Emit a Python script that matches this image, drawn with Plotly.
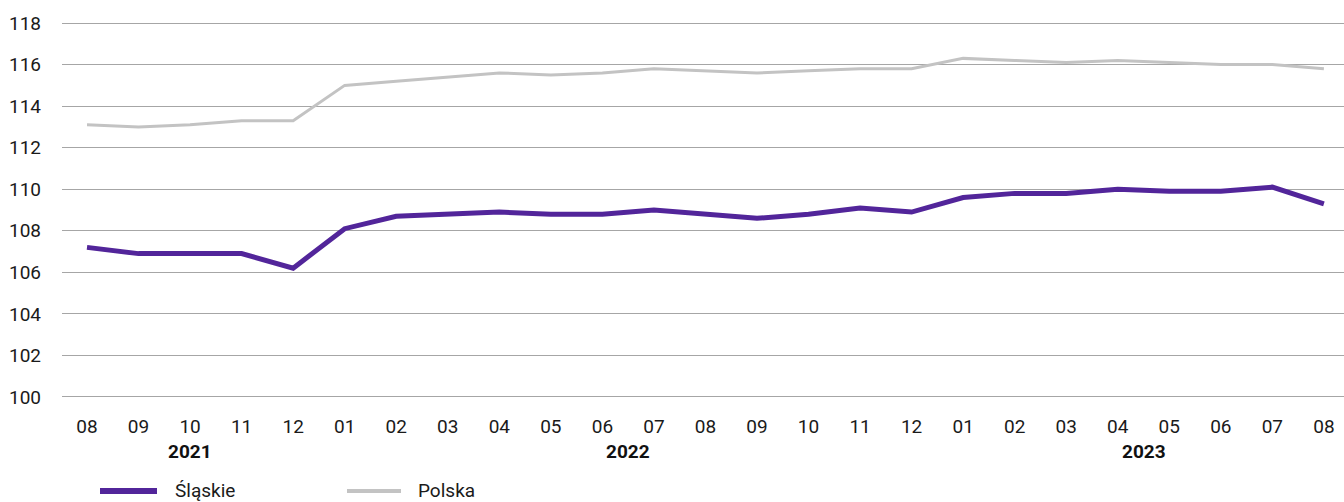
import plotly.graph_objects as go

months = ["08", "09", "10", "11", "12",
          "01", "02", "03", "04", "05", "06", "07", "08", "09", "10", "11", "12",
          "01", "02", "03", "04", "05", "06", "07", "08"]
years = ["2021", "2022", "2023"]
year_centers = [2, 10.5, 20.5]

slaskie = [107.2, 106.9, 106.9, 106.9, 106.2,
           108.1, 108.7, 108.8, 108.9, 108.8, 108.8, 109.0, 108.8, 108.6, 108.8, 109.1, 108.9,
           109.6, 109.8, 109.8, 110.0, 109.9, 109.9, 110.1, 109.3]
polska = [113.1, 113.0, 113.1, 113.3, 113.3,
          115.0, 115.2, 115.4, 115.6, 115.5, 115.6, 115.8, 115.7, 115.6, 115.7, 115.8, 115.8,
          116.3, 116.2, 116.1, 116.2, 116.1, 116.0, 116.0, 115.8]

series_names = ["Śląskie", "Polska"]
series_colors = ["#52259A", "#C3C3C3"]
series_widths = [5, 3]

x = list(range(len(months)))
FONT = "Roboto"
W, H = 1344, 502
ML, MR, MT, MB = 62, 0, 21, 103

fig = go.Figure()
for name, vals, col, lw in zip(series_names, [slaskie, polska], series_colors, series_widths):
    fig.add_trace(go.Scatter(x=x, y=vals, mode="lines", name=name,
                             line=dict(color=col, width=lw), showlegend=False))

for yr, xc in zip(years, year_centers):
    fig.add_annotation(x=xc, y=-0.138, xref="x", yref="paper", text=f"<b>{yr}</b>",
                       showarrow=False, font=dict(family=FONT, size=19, color="#111111"),
                       xanchor="center", yanchor="middle")

# manual legend (pixel layout converted to paper coords)
pw, ph = W - ML - MR, H - MT - MB
def px(v):
    return (v - ML) / pw
def py(v):
    return (H - MB - v) / ph

legend_items = [(100, 157, 174), (347, 401, 417)]
legend_y = 491
for (x0, x1, tx), name, col, lw in zip(legend_items, series_names, series_colors, series_widths):
    fig.add_shape(type="line", xref="paper", yref="paper", x0=px(x0), x1=px(x1),
                  y0=py(legend_y), y1=py(legend_y), line=dict(color=col, width=lw + 1))
    fig.add_annotation(x=px(tx), y=py(legend_y), xref="paper", yref="paper", text=name,
                       showarrow=False, xanchor="left", yanchor="middle", borderpad=0,
                       font=dict(family=FONT, size=19, color="#1a1a1a"))

fig.update_layout(
    width=W, height=H,
    margin=dict(l=ML, r=MR, t=MT, b=MB),
    paper_bgcolor="white", plot_bgcolor="white",
    font=dict(family=FONT, size=19, color="#1a1a1a"),
    showlegend=False,
    xaxis=dict(range=[-0.485, 24.39], tickmode="array", tickvals=x, ticktext=months,
               showgrid=False, zeroline=False, showline=False, ticks="",
               ticklabelstandoff=14, tickfont=dict(size=19)),
    yaxis=dict(range=[99.9, 118.1], tickmode="linear", tick0=100, dtick=2,
               showgrid=True, gridcolor="#A6A6A6", gridwidth=1, zeroline=False,
               showline=False, ticks="", ticklabelstandoff=20, tickfont=dict(size=19)),
)

fig.write_html("out.html", config={"displayModeBar": False},
               post_script="document.body.style.margin='0';")
